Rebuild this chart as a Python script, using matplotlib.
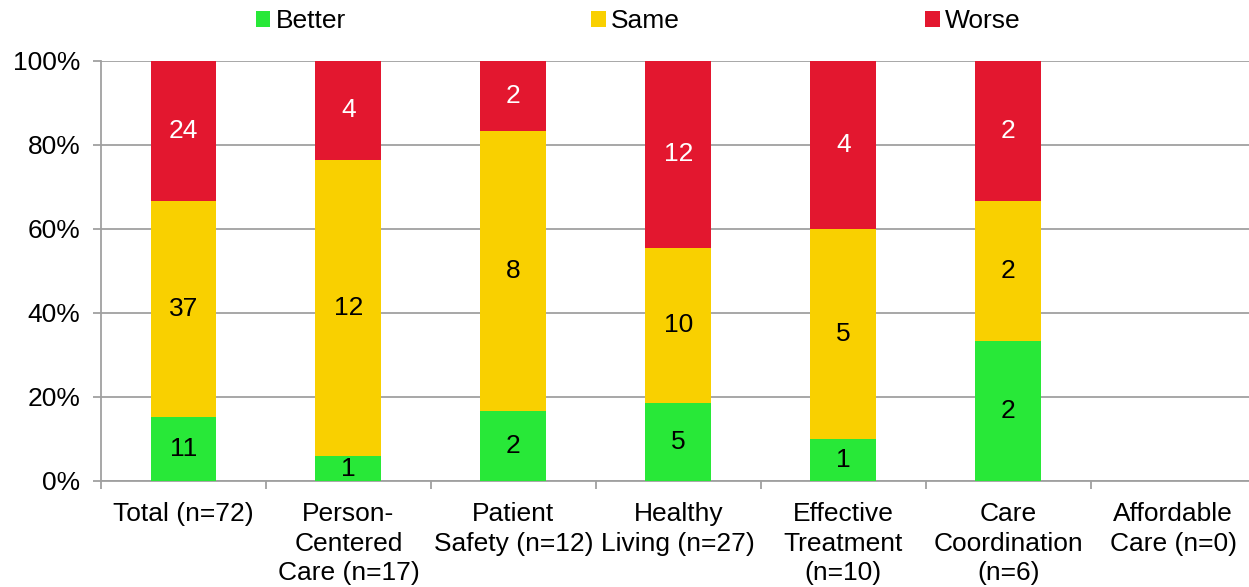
import numpy as np
import matplotlib.pyplot as plt
from matplotlib.ticker import FixedLocator, PercentFormatter

plt.rcParams['font.family'] = ['Liberation Sans', 'DejaVu Sans']

# Datos del grafico
categorias = ["Total (n=72)", "Person-\nCentered\nCare (n=17)", "Patient\nSafety (n=12)",
              "Healthy\nLiving (n=27)", "Effective\nTreatment\n(n=10)", "Care\nCoordination\n(n=6)",
              "Affordable\nCare (n=0)"]
better = [11, 1, 2, 5, 1, 2, 0]
same = [37, 12, 8, 10, 5, 2, 0]
worse = [24, 4, 2, 12, 4, 2, 0]

series = [("Better", better, "#28E838", "black"),
          ("Same", same, "#F9D000", "black"),
          ("Worse", worse, "#E3172F", "white")]

tot = np.array(better) + np.array(same) + np.array(worse)
den = np.where(tot == 0, 1, tot)

fs = 19

fig = plt.figure(figsize=(12.49, 5.87), dpi=100)
ax = fig.add_axes([0.0809, 0.1806, 0.9191, 0.7155])

x = np.arange(len(categorias))
base = np.zeros(len(categorias))
handles = []
for nombre, vals, color, tcolor in series:
    frac = np.array(vals) / den
    b = ax.bar(x, frac, 0.4, bottom=base, color=color, label=nombre, zorder=3)
    handles.append(b)
    for xi, f, v, bo in zip(x, frac, vals, base):
        if v > 0:
            ax.text(xi, bo + f / 2, str(v), ha="center", va="center",
                    fontsize=fs, color=tcolor, zorder=4)
    base = base + frac

ax.set_ylim(0, 1)
ax.set_xlim(-0.5, 6.46)
ax.set_yticks(np.arange(0, 1.01, 0.2))
ax.yaxis.set_major_formatter(PercentFormatter(1.0, decimals=0))
ax.grid(axis="y", color="#A0A0A0", linewidth=1.3, zorder=0)

ax.set_xticks(x)
ax.set_xticklabels(categorias, fontsize=fs, linespacing=1.3)
ax.xaxis.set_minor_locator(FixedLocator(np.arange(-0.5, 7, 1)))
ax.tick_params(axis="x", which="major", length=0, pad=15)
ax.tick_params(axis="x", which="minor", length=6, color="#A0A0A0", width=1.3)
ax.tick_params(axis="y", labelsize=fs, length=6, color="#A0A0A0", width=1.3, pad=9)

for s in ["top", "right"]:
    ax.spines[s].set_visible(False)
for s in ["left", "bottom"]:
    ax.spines[s].set_color("#A0A0A0")
    ax.spines[s].set_linewidth(1.3)

fig.legend(handles=handles, loc="center", bbox_to_anchor=(0.511, 0.964), ncol=3,
           frameon=False, fontsize=fs, handlelength=0.55, handleheight=0.55,
           handletextpad=0.2, columnspacing=9.3)

fig.savefig("out.png", dpi=100)
